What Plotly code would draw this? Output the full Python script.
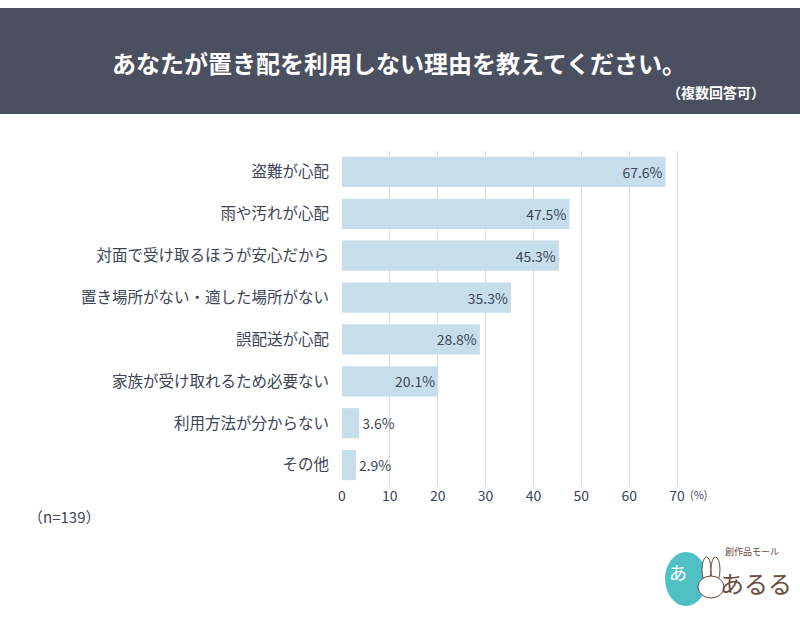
import plotly.graph_objects as go

categories = ["盗難が心配", "雨や汚れが心配", "対面で受け取るほうが安心だから",
              "置き場所がない・適した場所がない", "誤配送が心配",
              "家族が受け取れるため必要ない", "利用方法が分からない", "その他"]
values = [67.6, 47.5, 45.3, 35.3, 28.8, 20.1, 3.6, 2.9]
tick_vals = [0, 10, 20, 30, 40, 50, 60, 70]

W, H = 800, 617
L, R, T, B = 342, 121, 151, 131
FONT = "Noto Sans CJK JP"
TXT = "#3d4556"
BROWN = "#6b4a40"


# pixel -> paper coords
def px(x):
    return (x - L) / (W - L - R)


def py(y):
    return (H - B - y) / (H - T - B)


labels = [f"{v}%" for v in values]
positions = ["inside" if v > 10 else "outside" for v in values]

fig = go.Figure(go.Bar(
    x=values, y=categories, orientation="h",
    marker=dict(color="#c6deec", line=dict(width=0)),
    text=labels, textposition=positions, insidetextanchor="end",
    textfont=dict(family=FONT, size=14, color=TXT),
    cliponaxis=False,
))

shapes = [
    # title band
    dict(type="rect", xref="paper", yref="paper", x0=px(0), x1=px(W), y0=py(114), y1=py(8),
         fillcolor="#4a505f", line=dict(width=0), layer="below"),
    # logo circle
    dict(type="circle", xref="paper", yref="paper", x0=px(665), x1=px(707), y0=py(606), y1=py(552),
         fillcolor="#4fc1c4", line=dict(width=0)),
    # rabbit (rough)
    dict(type="circle", xref="paper", yref="paper", x0=px(702), x1=px(711), y0=py(582), y1=py(557),
         fillcolor="white", line=dict(color=BROWN, width=1)),
    dict(type="circle", xref="paper", yref="paper", x0=px(711), x1=px(720), y0=py(582), y1=py(557),
         fillcolor="white", line=dict(color=BROWN, width=1)),
    dict(type="circle", xref="paper", yref="paper", x0=px(698), x1=px(724), y0=py(598), y1=py(576),
         fillcolor="white", line=dict(color=BROWN, width=1)),
]

annotations = [
    dict(text="<b>あなたが置き配を利用しない理由を教えてください。</b>", x=px(399), y=py(62),
         font=dict(family=FONT, size=24, color="white")),
    dict(text="<b>（複数回答可）</b>", x=px(767), y=py(92), xanchor="right",
         font=dict(family=FONT, size=14, color="white")),
    dict(text="(%)", x=px(688), y=py(494), xanchor="left",
         font=dict(family=FONT, size=11, color=TXT)),
    dict(text="（n=139）", x=px(26), y=py(516), xanchor="left",
         font=dict(family=FONT, size=15, color=TXT)),
    dict(text="あ", x=px(678), y=py(572), font=dict(family=FONT, size=18, color="white")),
    dict(text="創作品モール", x=px(752), y=py(551),
         font=dict(family=FONT, size=9, color=BROWN)),
    dict(text="あるる", x=px(756), y=py(582),
         font=dict(family=FONT, size=24, color=BROWN)),
]
for a in annotations:
    a.setdefault("xanchor", "center")
    a.update(xref="paper", yref="paper", showarrow=False, yanchor="middle")

fig.update_layout(
    width=W, height=H, margin=dict(l=L, r=R, t=T, b=B),
    paper_bgcolor="white", plot_bgcolor="white",
    bargap=0.28, showlegend=False,
    font=dict(family=FONT, size=14, color=TXT),
    shapes=shapes, annotations=annotations,
    xaxis=dict(range=[0, 70.4], tickvals=tick_vals, showgrid=True, gridcolor="#dcdcdc",
               gridwidth=1, zeroline=False, showline=False, ticks="",
               tickfont=dict(family=FONT, size=14, color=TXT)),
    yaxis=dict(autorange="reversed", showgrid=False, zeroline=False, ticks="",
               ticklabelstandoff=12, tickfont=dict(family=FONT, size=15.5, color=TXT)),
)

fig.write_html("out.html", config={"displayModeBar": False},
               post_script="document.body.style.margin='0';")
